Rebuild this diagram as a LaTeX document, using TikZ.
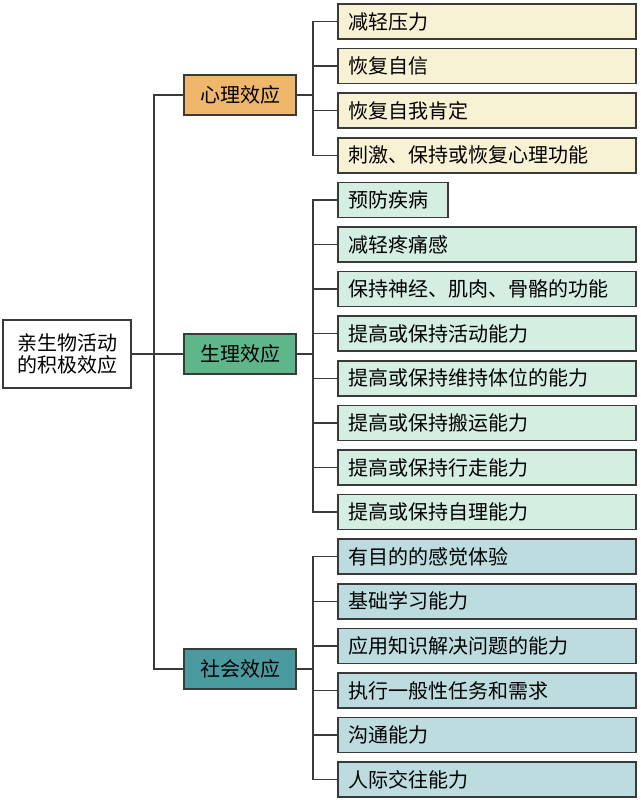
\documentclass[tikz,border=0pt]{standalone}
\usepackage{fontspec}
\newfontfamily\cjk{Noto Sans CJK SC}
\definecolor{lineC}{HTML}{3A3A3A}
\definecolor{psyF}{HTML}{EEB76C}
\definecolor{phyF}{HTML}{5FB68B}
\definecolor{socF}{HTML}{4A9BA0}
\definecolor{psyL}{HTML}{F8F2D4}
\definecolor{phyL}{HTML}{D4EEE1}
\definecolor{socL}{HTML}{BCDCE0}
\tikzset{
  box/.style={draw=lineC, line width=1.5pt, font=\cjk\fontsize{20}{23}\selectfont, text=black},
  midbox/.style={box, minimum width=112pt, minimum height=40pt, inner sep=0pt},
  leafbox/.style={box, anchor=west, minimum height=35pt, text width=276pt, inner xsep=11pt, inner ysep=0pt, align=left},
  shortleaf/.style={box, anchor=west, minimum height=35pt, text width=88pt, inner xsep=11pt, inner ysep=0pt, align=left},
  conn/.style={draw=lineC, line width=1.5pt}
}
\begin{document}
\begin{tikzpicture}[x=1pt,y=-1pt]
\useasboundingbox[fill=white] (0,0) rectangle (640,800);
% root and middle nodes
\node[box, minimum width=128pt, minimum height=68pt, inner sep=0pt, align=left, font=\cjk\fontsize{20}{22.5}\selectfont] (root) at (67,354) {亲生物活动\\的积极效应};
\node[midbox, fill=psyF] (psy) at (240,95) {心理效应};
\node[midbox, fill=phyF] (phy) at (240,354) {生理效应};
\node[midbox, fill=socF] (soc) at (240,669) {社会效应};
% leaves
\def\rowy#1{21.5+44.6*#1}
\node[leafbox, fill=psyL] (p0) at (337,{\rowy{0}}) {减轻压力};
\node[leafbox, fill=psyL] (p1) at (337,{\rowy{1}}) {恢复自信};
\node[leafbox, fill=psyL] (p2) at (337,{\rowy{2}}) {恢复自我肯定};
\node[leafbox, fill=psyL] (p3) at (337,{\rowy{3}}) {刺激、保持或恢复心理功能};
\node[shortleaf, fill=phyL] (h0) at (337,{\rowy{4}}) {预防疾病};
\node[leafbox, fill=phyL] (h1) at (337,{\rowy{5}}) {减轻疼痛感};
\node[leafbox, fill=phyL] (h2) at (337,{\rowy{6}}) {保持神经、肌肉、骨骼的功能};
\node[leafbox, fill=phyL] (h3) at (337,{\rowy{7}}) {提高或保持活动能力};
\node[leafbox, fill=phyL] (h4) at (337,{\rowy{8}}) {提高或保持维持体位的能力};
\node[leafbox, fill=phyL] (h5) at (337,{\rowy{9}}) {提高或保持搬运能力};
\node[leafbox, fill=phyL] (h6) at (337,{\rowy{10}}) {提高或保持行走能力};
\node[leafbox, fill=phyL] (h7) at (337,{\rowy{11}}) {提高或保持自理能力};
\node[leafbox, fill=socL] (s0) at (337,{\rowy{12}}) {有目的的感觉体验};
\node[leafbox, fill=socL] (s1) at (337,{\rowy{13}}) {基础学习能力};
\node[leafbox, fill=socL] (s2) at (337,{\rowy{14}}) {应用知识解决问题的能力};
\node[leafbox, fill=socL] (s3) at (337,{\rowy{15}}) {执行一般性任务和需求};
\node[leafbox, fill=socL] (s4) at (337,{\rowy{16}}) {沟通能力};
\node[leafbox, fill=socL] (s5) at (337,{\rowy{17}}) {人际交往能力};
% connectors root -> middle
\draw[conn] (root.east) -- ++(22,0) |- (psy.west);
\draw[conn] (root.east) -- ++(22,0) |- (soc.west);
\draw[conn] (root.east) -- (phy.west);
% middle -> leaves
\foreach \l in {p0,p1,p2,p3} \draw[conn] (psy.east) -- ++(16,0) |- (\l.west);
\foreach \l in {h0,h1,h2,h3,h4,h5,h6,h7} \draw[conn] (phy.east) -- ++(16,0) |- (\l.west);
\foreach \l in {s0,s1,s2,s3,s4,s5} \draw[conn] (soc.east) -- ++(16,0) |- (\l.west);
\end{tikzpicture}
\end{document}
